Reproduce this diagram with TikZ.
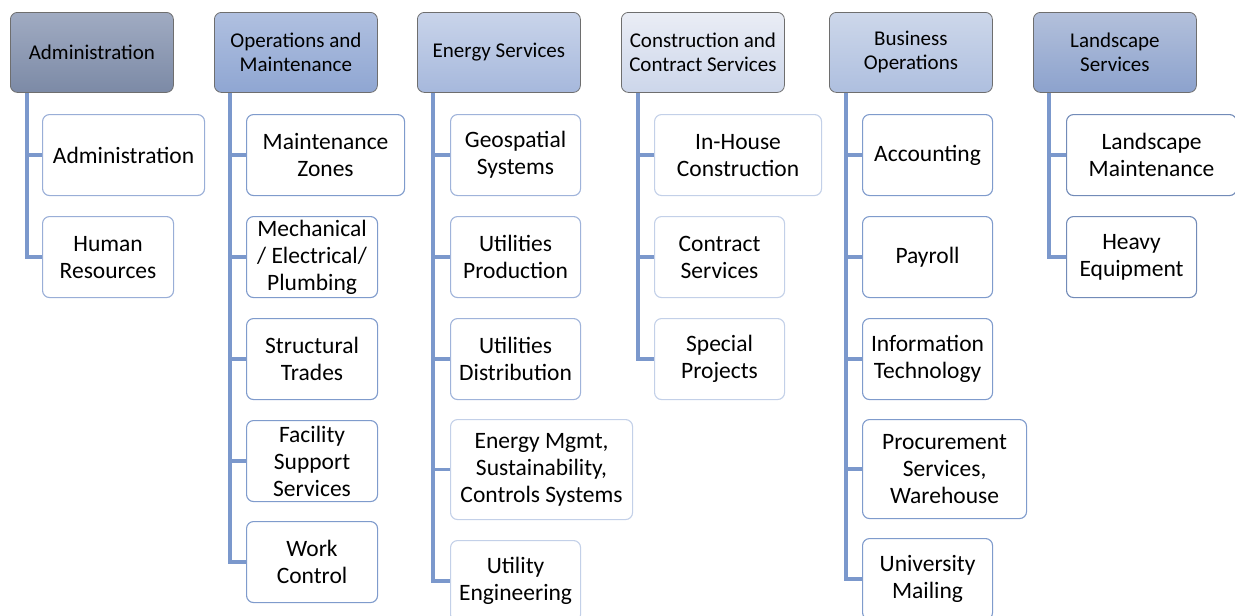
\documentclass[tikz,border=0pt]{standalone}
\usepackage{fontspec}
\setmainfont{Carlito}
\usetikzlibrary{positioning}

\definecolor{linkblue}{HTML}{7B98CC}
\definecolor{boxdark}{HTML}{7F9BCC}
\definecolor{boxmid}{HTML}{9FB3DA}
\definecolor{boxlight}{HTML}{C3D0E8}
\definecolor{headline}{HTML}{6E6E6E}

\begin{document}
\begin{tikzpicture}[x=1pt, y=-1pt,
    headnode/.style={rectangle, rounded corners=7pt, draw=headline, line width=0.8pt, anchor=north west, minimum width=163pt, minimum height=80pt, inner sep=0pt, align=center, font=\fontsize{21}{24}\selectfont},
    subnode/.style={rectangle, rounded corners=7pt, draw=boxdark, fill=white, line width=1.1pt, anchor=north west, minimum height=81pt, inner sep=0pt, align=center, font=\fontsize{23.5}{27}\selectfont},
    link/.style={draw=linkblue, line width=3.4pt}]

    \useasboundingbox (0,0) rectangle (1235,616);

    %Headers
    \node[headnode, top color={rgb,255:red,160;green,171;blue,194}, bottom color={rgb,255:red,124;green,138;blue,166}] (hadm) at (10,12) {Administration};
    \node[headnode, top color={rgb,255:red,176;green,192;blue,224}, bottom color={rgb,255:red,143;green,166;blue,210}] (hops) at (214,12) {Operations and\\Maintenance};
    \node[headnode, top color={rgb,255:red,201;green,212;blue,234}, bottom color={rgb,255:red,166;green,184;blue,220}] (heng) at (417,12) {Energy Services};
    \node[headnode, top color={rgb,255:red,234;green,237;blue,245}, bottom color={rgb,255:red,204;green,214;blue,234}] (hcon) at (621,12) {Construction and\\Contract Services};
    \node[headnode, top color={rgb,255:red,205;green,215;blue,234}, bottom color={rgb,255:red,174;green,191;blue,223}] (hbus) at (829,12) {Business\\Operations};
    \node[headnode, top color={rgb,255:red,179;green,192;blue,219}, bottom color={rgb,255:red,140;green,162;blue,205}] (hlan) at (1033,12) {Landscape\\Services};

    %Administration
    \node[subnode, draw=boxmid!80!boxdark, minimum width=162pt] (adm1) at (42,114) {Administration};
    \node[subnode, draw=boxmid!80!boxdark, minimum width=131pt] (adm2) at (42,216) {Human\\Resources};

    %Operations and Maintenance
    \node[subnode, minimum width=158pt] (ops1) at (246,114) {Maintenance\\Zones};
    \node[subnode, minimum width=131pt] (ops2) at (246,216) {Mechanical\\/ Electrical/\\Plumbing};
    \node[subnode, minimum width=131pt] (ops3) at (246,318) {Structural\\Trades};
    \node[subnode, minimum width=131pt] (ops4) at (246,420) {Facility\\Support\\Services};
    \node[subnode, minimum width=131pt] (ops5) at (246,521) {Work\\Control};

    %Energy Services
    \node[subnode, draw=boxmid, minimum width=130pt] (eng1) at (450,114) {Geospatial\\Systems};
    \node[subnode, draw=boxmid, minimum width=130pt] (eng2) at (450,216) {Utilities\\Production};
    \node[subnode, draw=boxmid, minimum width=130pt] (eng3) at (450,318) {Utilities\\Distribution};
    \node[subnode, draw=boxlight, minimum width=182pt, minimum height=100pt] (eng4) at (450,419) {Energy Mgmt,\\Sustainability,\\Controls Systems};
    \node[subnode, draw=boxlight, minimum width=130pt] (eng5) at (450,540) {Utility\\Engineering};

    %Construction and Contract Services
    \node[subnode, draw=boxlight, minimum width=167pt] (con1) at (654,114) {In-House\\Construction};
    \node[subnode, draw=boxlight, minimum width=130pt] (con2) at (654,216) {Contract\\Services};
    \node[subnode, draw=boxlight, minimum width=130pt] (con3) at (654,318) {Special\\Projects};

    %Business Operations
    \node[subnode, minimum width=130pt] (bus1) at (862,114) {Accounting};
    \node[subnode, minimum width=130pt] (bus2) at (862,216) {Payroll};
    \node[subnode, minimum width=130pt] (bus3) at (862,318) {Information\\Technology};
    \node[subnode, minimum width=164pt, minimum height=99pt] (bus4) at (862,419) {Procurement\\Services,\\Warehouse};
    \node[subnode, minimum width=130pt] (bus5) at (862,538) {University\\Mailing};

    %Landscape Services
    \node[subnode, draw=boxdark!90!black, minimum width=170pt] (lan1) at (1066,114) {Landscape\\Maintenance};
    \node[subnode, draw=boxdark!90!black, minimum width=130pt] (lan2) at (1066,216) {Heavy\\Equipment};

    %Lines
    \draw[link] ([xshift=17pt]hadm.south west) |- (adm1.west);
    \draw[link] ([xshift=17pt]hadm.south west) |- (adm2.west);
    \draw[link] ([xshift=16pt]hops.south west) |- (ops1.west);
    \draw[link] ([xshift=16pt]hops.south west) |- (ops2.west);
    \draw[link] ([xshift=16pt]hops.south west) |- (ops3.west);
    \draw[link] ([xshift=16pt]hops.south west) |- (ops4.west);
    \draw[link] ([xshift=16pt]hops.south west) |- (ops5.west);
    \draw[link] ([xshift=16pt]heng.south west) |- (eng1.west);
    \draw[link] ([xshift=16pt]heng.south west) |- (eng2.west);
    \draw[link] ([xshift=16pt]heng.south west) |- (eng3.west);
    \draw[link] ([xshift=16pt]heng.south west) |- (eng4.west);
    \draw[link] ([xshift=16pt]heng.south west) |- (eng5.west);
    \draw[link] ([xshift=17pt]hcon.south west) |- (con1.west);
    \draw[link] ([xshift=17pt]hcon.south west) |- (con2.west);
    \draw[link] ([xshift=17pt]hcon.south west) |- (con3.west);
    \draw[link] ([xshift=17pt]hbus.south west) |- (bus1.west);
    \draw[link] ([xshift=17pt]hbus.south west) |- (bus2.west);
    \draw[link] ([xshift=17pt]hbus.south west) |- (bus3.west);
    \draw[link] ([xshift=17pt]hbus.south west) |- (bus4.west);
    \draw[link] ([xshift=17pt]hbus.south west) |- (bus5.west);
    \draw[link] ([xshift=16pt]hlan.south west) |- (lan1.west);
    \draw[link] ([xshift=16pt]hlan.south west) |- (lan2.west);

\end{tikzpicture}
\end{document}
